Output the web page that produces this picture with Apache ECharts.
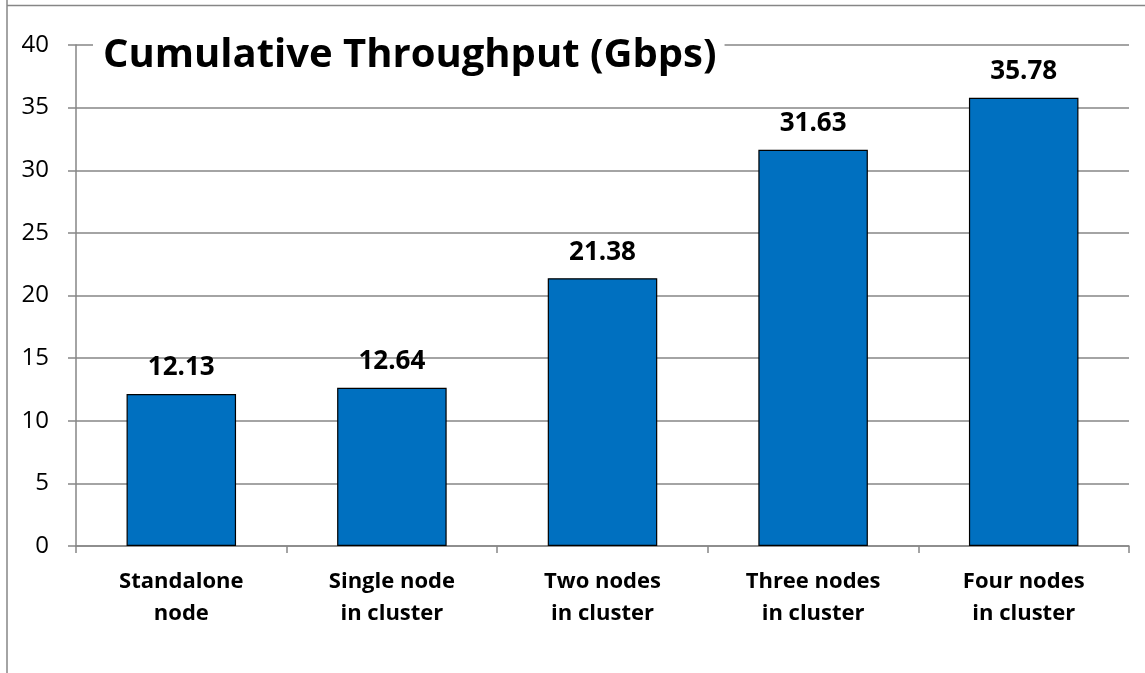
<!DOCTYPE html>
<html>
<head>
<meta charset="utf-8">
<script src="https://cdn.jsdelivr.net/npm/echarts@6/dist/echarts.min.js"></script>
<style>
html,body{margin:0;padding:0;background:#fff;}
#chart{width:1145px;height:673px;}
</style>
</head>
<body>
<div id="chart"></div>
<script>
const categories = ["Standalone\nnode", "Single node\nin cluster", "Two nodes\nin cluster", "Three nodes\nin cluster", "Four nodes\nin cluster"];
const throughput = [12.13, 12.64, 21.38, 31.63, 35.78];
const yTicks = { min: 0, max: 40, interval: 5 };
const chartTitle = "Cumulative Throughput (Gbps)";

const FONT = "'Open Sans', sans-serif";
const GRAY = "#868686";
const chart = echarts.init(document.getElementById('chart'));
chart.setOption({
  animation: false,
  backgroundColor: '#fff',
  title: {
    text: chartTitle,
    left: 93,
    top: 30,
    padding: [0, 8, 0, 10],
    backgroundColor: '#fff',
    textStyle: { fontFamily: FONT, fontWeight: 'bold', fontSize: 40, color: '#000', lineHeight: 52 }
  },
  graphic: [
    { type: 'line', shape: { x1: 7, y1: 0, x2: 7, y2: 673 }, style: { stroke: GRAY, lineWidth: 1.5 } },
    { type: 'line', shape: { x1: 7, y1: 5.5, x2: 1145, y2: 5.5 }, style: { stroke: GRAY, lineWidth: 1.5 } }
  ],
  grid: { left: 76, right: 16, top: 45, bottom: 127 },
  xAxis: {
    type: 'category',
    data: categories,
    axisLine: { show: true, lineStyle: { color: GRAY, width: 1.5 } },
    axisTick: { show: true, length: 7, alignWithLabel: false, lineStyle: { color: GRAY, width: 1.5 } },
    axisLabel: { fontFamily: FONT, fontWeight: 'bold', fontSize: 22, color: '#000', lineHeight: 32, margin: 20, interval: 0 }
  },
  yAxis: {
    type: 'value',
    min: yTicks.min, max: yTicks.max, interval: yTicks.interval,
    axisLine: { show: true, lineStyle: { color: GRAY, width: 1.5 } },
    axisTick: { show: true, length: 8, lineStyle: { color: GRAY, width: 1.5 } },
    splitLine: { show: true, lineStyle: { color: GRAY, width: 1.5 } },
    axisLabel: { fontFamily: FONT, fontSize: 24, color: '#000', margin: 27 }
  },
  series: [{
    type: 'bar',
    data: throughput,
    barWidth: '52%',
    itemStyle: { color: '#0070C0', borderColor: '#000', borderWidth: 1.2 },
    label: {
      show: true, position: 'top', distance: 13,
      fontFamily: FONT, fontWeight: 'bold', fontSize: 26, color: '#000',
      formatter: p => p.value.toFixed(2)
    }
  }]
});
</script>
</body>
</html>
